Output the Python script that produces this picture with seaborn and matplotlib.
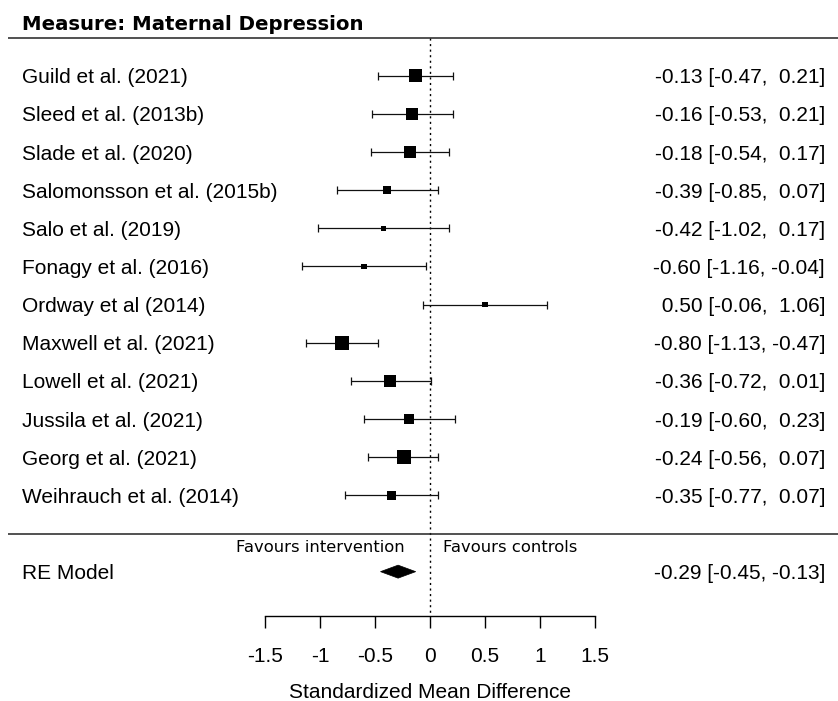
import matplotlib
matplotlib.use("Agg")
import matplotlib.pyplot as plt
from matplotlib.patches import Polygon
import numpy as np
import pandas as pd
import seaborn as sns

# ---------------- data ----------------
studies = ["Guild et al. (2021)", "Sleed et al. (2013b)", "Slade et al. (2020)",
           "Salomonsson et al. (2015b)", "Salo et al. (2019)", "Fonagy et al. (2016)",
           "Ordway et al (2014)", "Maxwell et al. (2021)", "Lowell et al. (2021)",
           "Jussila et al. (2021)", "Georg et al. (2021)", "Weihrauch et al. (2014)"]
estimates = [-0.13, -0.16, -0.18, -0.39, -0.42, -0.60, 0.50, -0.80, -0.36, -0.19, -0.24, -0.35]
ci_lower = [-0.47, -0.53, -0.54, -0.85, -1.02, -1.16, -0.06, -1.13, -0.72, -0.60, -0.56, -0.77]
ci_upper = [0.21, 0.21, 0.17, 0.07, 0.17, -0.04, 1.06, -0.47, 0.01, 0.23, 0.07, 0.07]
weights = [9.9, 9.0, 9.4, 6.2, 3.6, 3.9, 3.9, 10.6, 9.0, 7.6, 10.6, 7.3]  # estimated (%)
re_label = "RE Model"
re_est, re_lower, re_upper = -0.29, -0.45, -0.13
title = "Measure: Maternal Depression"
xticks = [-1.5, -1, -0.5, 0, 0.5, 1, 1.5]
xtick_labels = ["-1.5", "-1", "-0.5", "0", "0.5", "1", "1.5"]
xlabel = "Standardized Mean Difference"
left_note = "Favours intervention"
right_note = "Favours controls"

# ---------------- layout ----------------
sns.set_theme(style="white")
plt.rcParams["font.family"] = ["Liberation Sans", "DejaVu Sans"]
plt.rcParams["text.color"] = "black"
plt.rcParams["xtick.color"] = "black"
plt.rcParams["xtick.labelcolor"] = "black"

W, H = 838, 701
X0, XS = 430.0, 110.0      # pixel of x=0, pixels per unit
Y0, YS = 75.7, 38.15       # pixel of first row, pixels per row

def px_x(p):
    return (p - X0) / XS

def px_y(p):
    return (p - Y0) / YS

fig = plt.figure(figsize=(W / 100, H / 100), dpi=100)
ax = fig.add_axes([0, 0, 1, 1])
ax.set_xlim(px_x(0), px_x(W))
ax.set_ylim(px_y(H), px_y(0))

n = len(studies)
df = pd.DataFrame({"study": studies, "est": estimates, "lo": ci_lower,
                   "hi": ci_upper, "w": weights, "row": np.arange(n)})

ax.errorbar(df["est"], df["row"], xerr=[df["est"] - df["lo"], df["hi"] - df["est"]],
            fmt="none", ecolor="#111111", elinewidth=0.9, capsize=2.6, capthick=0.9, zorder=2)

side_px = 14.0 * df["w"] / df["w"].max()
df["area"] = (side_px * 0.72) ** 2
amin, amax = df["area"].min(), df["area"].max()
sns.scatterplot(data=df, x="est", y="row", size="area", sizes=(amin, amax),
                size_norm=(amin, amax), marker="s", color="black", edgecolor="none",
                linewidth=0, legend=False, ax=ax, zorder=3)

re_row = n + 1
h = 6.5 / YS
ax.add_patch(Polygon([(re_lower, re_row), (re_est, re_row - h), (re_upper, re_row),
                      (re_est, re_row + h)], closed=True, facecolor="black",
                     edgecolor="black", lw=0.5, zorder=3))

axis_row = px_y(616)
top_row = -1
sep_row = n

ax.plot([0, 0], [top_row, axis_row], color="black", lw=1.0, ls=(0, (1.5, 2.5)), zorder=1)
ax.hlines([top_row, sep_row], px_x(8), px_x(W), color="#222222", lw=1.1)

# texts
fs = 15
for i, r in df.iterrows():
    ax.text(px_x(22), r["row"], r["study"], ha="left", va="center_baseline", fontsize=fs)
    ax.text(px_x(825), r["row"], f"{r['est']:5.2f} [{r['lo']:5.2f}, {r['hi']:5.2f}]",
            ha="right", va="center_baseline", fontsize=fs)
ax.text(px_x(22), re_row, re_label, ha="left", va="center_baseline", fontsize=fs)
ax.text(px_x(825), re_row, f"{re_est:5.2f} [{re_lower:5.2f}, {re_upper:5.2f}]",
        ha="right", va="center_baseline", fontsize=fs)

ax.text(px_x(22), px_y(29.5), title, ha="left", va="baseline", fontsize=14.2,
        fontweight="bold", family="DejaVu Sans")
ax.text(px_x(405), px_y(548), left_note, ha="right", va="center", fontsize=11.8,
        family="DejaVu Sans")
ax.text(px_x(443), px_y(548), right_note, ha="left", va="center", fontsize=11.8,
        family="DejaVu Sans")
ax.text(0, px_y(693), xlabel, ha="center", va="center", fontsize=fs)

# axis
for s in ["top", "left", "right"]:
    ax.spines[s].set_visible(False)
ax.spines["bottom"].set_position(("data", axis_row))
ax.spines["bottom"].set_bounds(xticks[0], xticks[-1])
ax.spines["bottom"].set_color("black")
ax.spines["bottom"].set_linewidth(1.0)
ax.set_xticks(xticks)
ax.set_xticklabels(xtick_labels)
ax.tick_params(axis="x", bottom=True, direction="out", length=8.6, width=1.0,
               color="black", labelcolor="black", labelsize=fs, pad=14)
ax.set_yticks([])
ax.set_xlabel("")
ax.set_ylabel("")
ax.set_facecolor("white")

fig.savefig("out.png", dpi=100, facecolor="white")
